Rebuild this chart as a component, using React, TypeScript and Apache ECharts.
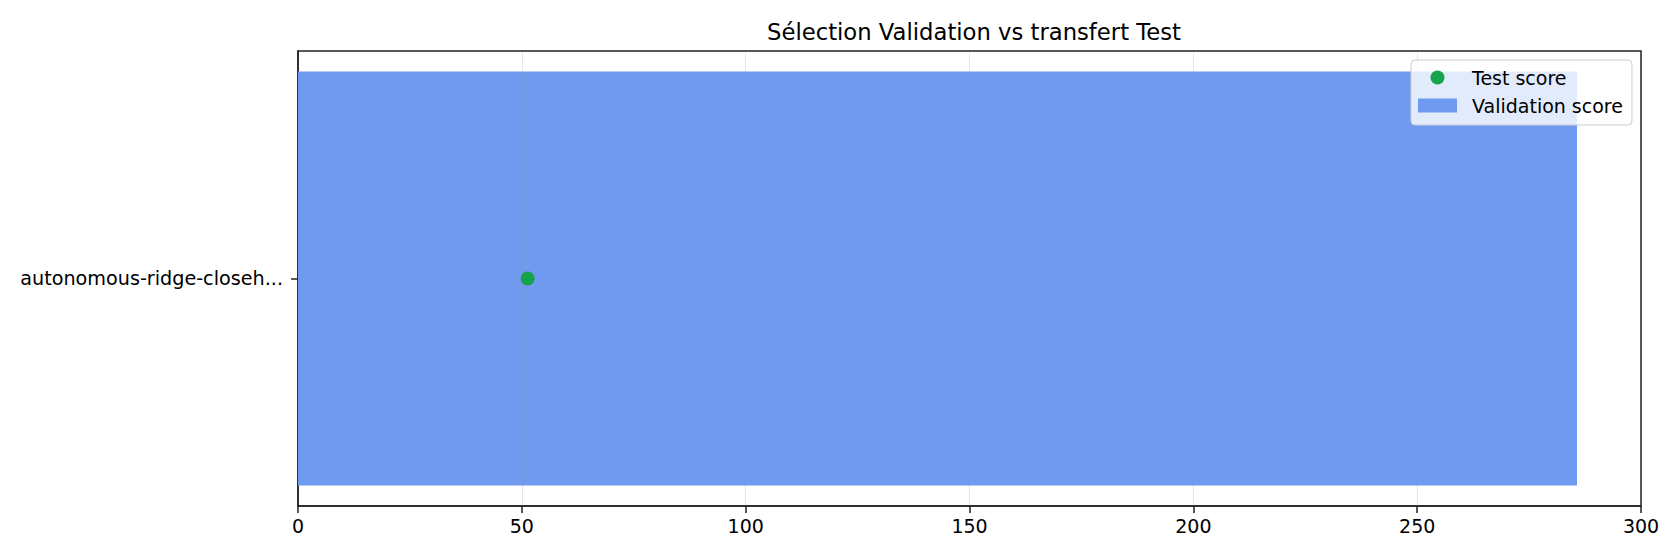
import React, { useEffect, useRef } from "react";
import * as echarts from "echarts";

const categories = ["autonomous-ridge-closeh..."];
const validationScores = [285.7];
const testScores = [51.3];
const xTickValues = [0, 50, 100, 150, 200, 250, 300];
const titleText = "Sélection Validation vs transfert Test";
const seriesNames = ["Test score", "Validation score"];

const FONT = "DejaVu Sans";

export default function App() {
  const ref = useRef<HTMLDivElement>(null);
  useEffect(() => {
    document.body.style.margin = "0";
    if (!ref.current) return;
    const chart = echarts.init(ref.current, undefined, { renderer: "svg" });
    const gridLines = xTickValues
      .filter((v, i) => i > 0 && i < xTickValues.length - 1)
      .map((v) => ({ xAxis: v }));
    chart.setOption({
      animation: false,
      backgroundColor: "#ffffff",
      textStyle: { fontFamily: FONT },
      title: {
        text: titleText,
        left: 969,
        top: 15,
        textAlign: "center",
        textStyle: { fontFamily: FONT, fontSize: 22.7, fontWeight: "normal", color: "#000" },
      },
      grid: {
        left: 298,
        right: 39,
        top: 51,
        bottom: 54,
        show: true,
        borderColor: "#222",
        borderWidth: 1.5,
        backgroundColor: "transparent",
      },
      legend: {
        orient: "vertical",
        left: 1411,
        top: 60,
        padding: [8, 9, 10, 7],
        itemGap: 9,
        itemWidth: 39,
        itemHeight: 14,
        backgroundColor: "rgba(255,255,255,0.8)",
        borderColor: "#cccccc",
        borderWidth: 1,
        borderRadius: 4,
        textStyle: { fontFamily: FONT, fontSize: 19, color: "#000", padding: [0, 0, 0, 10], lineHeight: 19 },
        data: [
          { name: seriesNames[0], icon: "circle" },
          { name: seriesNames[1], icon: "rect" },
        ],
      },
      xAxis: {
        type: "value",
        min: 0,
        max: 300,
        interval: 50,
        axisLine: { show: true, lineStyle: { color: "#222", width: 1.5 } },
        axisTick: { show: true, length: 7, lineStyle: { color: "#222", width: 1.5 } },
        axisLabel: { fontFamily: FONT, fontSize: 19, color: "#000", margin: 10 },
        splitLine: { show: false },
      },
      yAxis: {
        type: "category",
        data: categories,
        axisLine: { show: true, lineStyle: { color: "#222", width: 1.5 } },
        axisTick: { show: true, length: 7, alignWithLabel: true, lineStyle: { color: "#222", width: 1.5 } },
        axisLabel: { fontFamily: FONT, fontSize: 19.2, color: "#000", margin: 15 },
        splitLine: { show: false },
      },
      series: [
        {
          name: seriesNames[1],
          type: "bar",
          data: validationScores,
          barWidth: "91%",
          itemStyle: { color: "#7099F0" },
          z: 2,
          markLine: {
            silent: true,
            symbol: "none",
            label: { show: false },
            lineStyle: { color: "rgba(140,140,140,0.22)", width: 1, type: "solid" },
            data: gridLines,
            z: 3,
          },
        },
        {
          name: seriesNames[0],
          type: "scatter",
          data: testScores.map((v, i) => [v, categories[i]]),
          symbol: "circle",
          symbolSize: 14,
          itemStyle: { color: "#16A34A", opacity: 1 },
          z: 5,
        },
      ],
    });
    return () => chart.dispose();
  }, []);
  return <div ref={ref} style={{ width: 1680, height: 560 }} />;
}
